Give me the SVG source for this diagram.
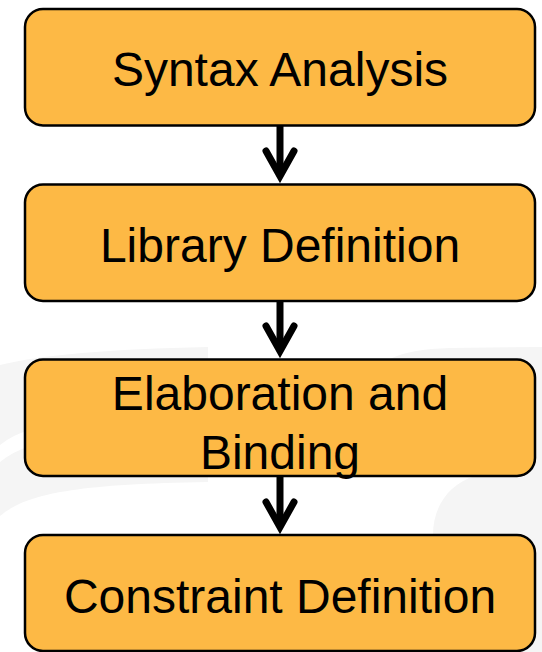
<svg xmlns="http://www.w3.org/2000/svg" width="542" height="652" viewBox="0 0 542 652">
  <style>
    .box { fill: #FDB945; stroke: #000; stroke-width: 2.5; }
    .label { font-family: "Liberation Sans", Arial, sans-serif; font-size: 48px; fill: #000; text-anchor: middle; }
    .shaft { stroke: #000; stroke-width: 7; fill: none; }
    .head { stroke: #000; stroke-width: 7; fill: none; stroke-linecap: round; stroke-linejoin: miter; stroke-miterlimit: 10; }
    .mark { fill: #F5F5F5; }
  </style>

  <rect x="0" y="0" width="542" height="652" fill="#FFFFFF"/>

  <!-- faint background swoosh -->
  <g id="backdrop">
    <path class="mark" d="M0,365 Q60,350 208,347 L208,405 L30,430 Q12,435 0,445 Z"/>
    <path class="mark" d="M0,462 Q12,452 30,446 L208,420 L208,482 C70,484 25,495 0,516 Z"/>
    <path class="mark" d="M390,359 Q410,349 450,348 L542,347 L542,652 L433,652 L433,535 C433,505 450,484 475,476 L390,476 Z"/>
  </g>

  <!-- connectors -->
  <g id="connectors">
    <g id="edge-syntax-library">
      <line class="shaft" x1="280" y1="125" x2="280" y2="176"/>
      <polyline class="head" points="266,151 280,176 294,151"/>
    </g>
    <g id="edge-library-elaboration">
      <line class="shaft" x1="280" y1="301" x2="280" y2="351"/>
      <polyline class="head" points="266,326 280,351 294,326"/>
    </g>
    <g id="edge-elaboration-constraint">
      <line class="shaft" x1="280" y1="476" x2="280" y2="527"/>
      <polyline class="head" points="266,502 280,527 294,502"/>
    </g>
  </g>

  <g id="node-syntax">
    <rect class="box" x="25" y="9" width="510" height="116.5" rx="18"/>
    <text class="label" x="280" y="86">Syntax Analysis</text>
  </g>

  <g id="node-library">
    <rect class="box" x="25" y="184.5" width="510" height="116.5" rx="18"/>
    <text class="label" x="280" y="262">Library Definition</text>
  </g>

  <g id="node-elaboration">
    <rect class="box" x="25" y="359.5" width="510" height="116.5" rx="18"/>
    <text class="label" x="280" y="410">Elaboration and</text>
    <text class="label" x="280" y="469">Binding</text>
  </g>

  <g id="node-constraint">
    <rect class="box" x="25" y="535" width="510" height="116" rx="18"/>
    <text class="label" x="280" y="613">Constraint Definition</text>
  </g>
</svg>
